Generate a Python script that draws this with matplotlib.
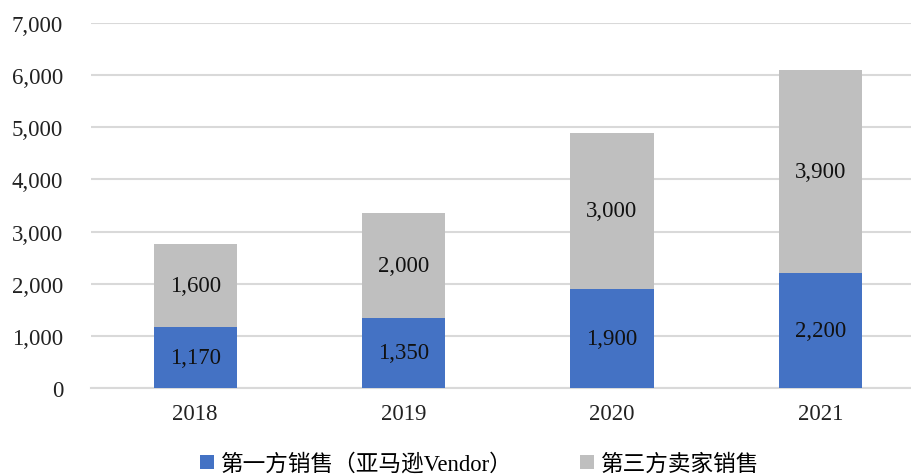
import matplotlib.pyplot as plt

# === 数据 ===
years = ['2018', '2019', '2020', '2021']
first_party = [1170, 1350, 1900, 2200]
third_party = [1600, 2000, 3000, 3900]
yticks = [0, 1000, 2000, 3000, 4000, 5000, 6000, 7000]
legend_labels = ['第一方销售（亚马逊Vendor）', '第三方卖家销售']

serif = ['Liberation Serif', 'Noto Sans CJK SC']
plt.rcParams['font.family'] = serif

fig = plt.figure(figsize=(9.12, 4.77), dpi=100)
ax = fig.add_axes([91 / 912, 1 - 389 / 477, (912 - 91) / 912, (389 - 24) / 477])

x = range(len(years))
b1 = ax.bar(x, first_party, width=0.4, color='#4472C4', zorder=3)
b2 = ax.bar(x, third_party, width=0.4, bottom=first_party, color='#BFBFBF', zorder=3)

for i in x:
    ax.text(i, first_party[i] / 2, f'{first_party[i]:,}', ha='center', va='center',
            fontsize=16.5, color='#111111', zorder=4)
    ax.text(i, first_party[i] + third_party[i] / 2, f'{third_party[i]:,}', ha='center',
            va='center', fontsize=16.5, color='#111111', zorder=4)

ax.set_xlim(-0.5, 3.44)
ax.set_ylim(0, 7000)
ax.set_yticks(yticks)
ax.set_yticklabels([f'{v:,}' for v in yticks])
ax.set_xticks(list(x))
ax.set_xticklabels(years)
ax.tick_params(axis='both', length=0, labelsize=16.5, colors='#222222')
ax.tick_params(axis='y', pad=20)
ax.tick_params(axis='x', pad=11)
ax.grid(axis='y', color='#D9D9D9', linewidth=1.5, zorder=0)
for s in ['top', 'right', 'left']:
    ax.spines[s].set_visible(False)
ax.spines['bottom'].set_color('#D9D9D9')
ax.spines['bottom'].set_linewidth(1.5)

fig.legend([b1, b2], legend_labels, loc='center', bbox_to_anchor=(0.526, 1 - 465 / 477),
           ncol=2, frameon=False, fontsize=16.3, handlelength=0.6, handleheight=0.6,
           handletextpad=0.3, columnspacing=3.0)

fig.savefig('out.png', dpi=100)
